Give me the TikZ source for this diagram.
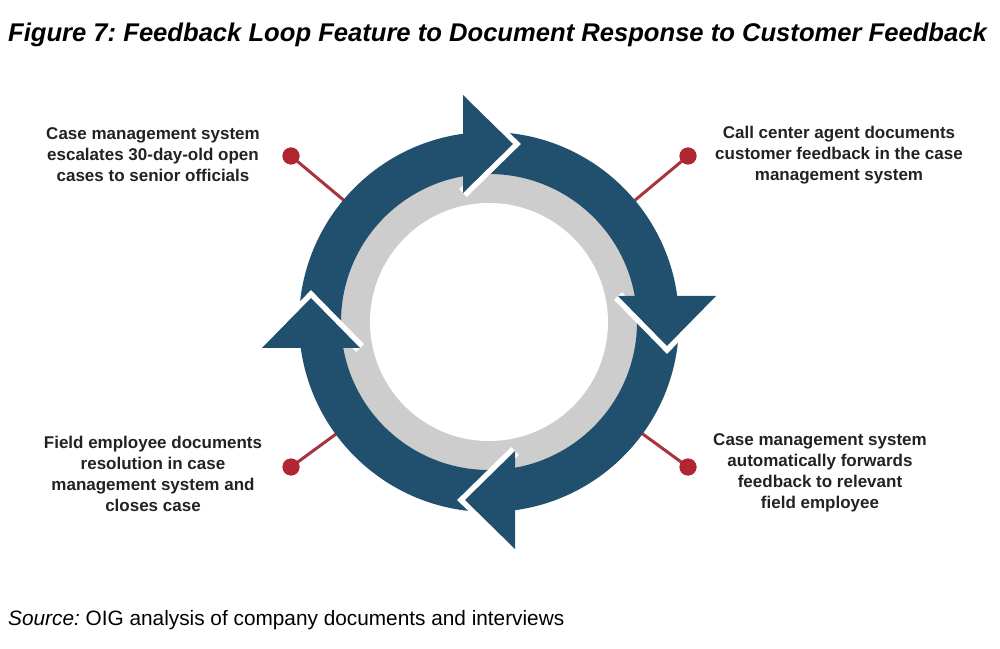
\documentclass[tikz,border=0pt]{standalone}
\usepackage{fontspec}
\setmainfont{Liberation Sans}
\frenchspacing
\definecolor{ringblue}{HTML}{21506F}
\definecolor{ringgray}{HTML}{CDCDCD}
\definecolor{dotred}{HTML}{B22532}
\definecolor{linered}{HTML}{A8343F}
\definecolor{txt}{HTML}{222222}
\begin{document}
\begin{tikzpicture}[x=1pt,y=1pt,
  lbl/.style={align=center, font=\fontsize{17}{21}\selectfont\bfseries, text=txt, inner sep=0pt},
  dot/.style={circle, fill=dotred, inner sep=0pt, minimum size=17pt},
  conn/.style={draw=linered, line width=3pt},
  headfill/.style={fill=ringblue},
  gapline/.style={draw=white, line width=11pt, line join=miter}]
\useasboundingbox (0,0) rectangle (1000,648);
\coordinate (C) at (489,326);
% title
\node[font=\fontsize{25.6}{28}\selectfont\bfseries\itshape, inner sep=0pt] (title) at (497.5,613)
  {Figure 7: Feedback Loop Feature to Document Response to Customer Feedback};
% connectors
\node[dot] (d1) at (291,492) {};
\node[dot] (d2) at (688,492) {};
\node[dot] (d3) at (291,181) {};
\node[dot] (d4) at (688,181) {};
\draw[conn] (d1.center) -- (C);
\draw[conn] (d2.center) -- (C);
\draw[conn] (d3.center) -- (C);
\draw[conn] (d4.center) -- (C);
\node[dot] at (d1) {};
\node[dot] at (d2) {};
\node[dot] at (d3) {};
\node[dot] at (d4) {};
% rings
\fill[ringgray] (C) circle (150);
\fill[white] (C) circle (119);
\fill[ringblue, even odd rule] (C) circle (190) (C) circle (148);
% arrow heads
\foreach \r in {0,-90,-180,-270} {
  \begin{scope}[shift={(C)}, rotate=\r]
    \draw[gapline] (-26,129) -- (24,178) -- (-26,227);
    \fill[headfill] (-26,129) -- (24,178) -- (-26,227) -- cycle;
  \end{scope}
}
% labels
\node[lbl] (t1) at (153,493) {Case management system\\escalates 30-day-old open\\cases to senior officials};
\node[lbl] (t2) at (839,493) {Call center agent documents\\customer feedback in the case\\management system};
\node[lbl] (t3) at (153,174) {Field employee documents\\resolution in case\\management system and\\closes case};
\node[lbl] (t4) at (820,175) {Case management system\\automatically forwards\\feedback to relevant\\field employee};
% source
\node[anchor=west, font=\fontsize{20.8}{24}\selectfont, inner sep=0pt] (src) at (8,28)
  {\textit{Source:} OIG analysis of company documents and interviews};
\end{tikzpicture}
\end{document}
